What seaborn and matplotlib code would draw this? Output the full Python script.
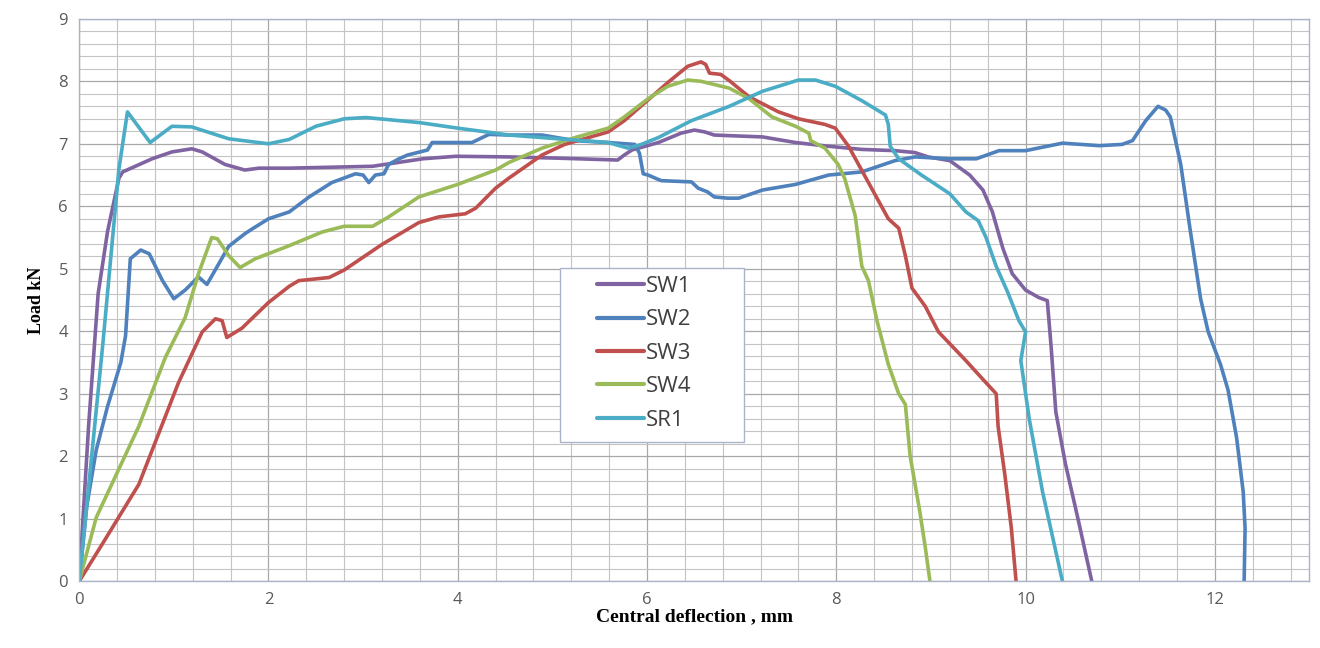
import numpy as np
import pandas as pd
import matplotlib
matplotlib.use("Agg")
import matplotlib.pyplot as plt
from matplotlib.ticker import MultipleLocator
from matplotlib.patches import Rectangle
import seaborn as sns

series_names = ["SW1", "SW2", "SW3", "SW4", "SR1"]
colors = ["#8064A2", "#4F81BD", "#C0504D", "#9BBB59", "#4BACC6"]

sw1_x = [0, 0.1, 0.2, 0.3, 0.42, 0.46, 0.77, 0.98, 1.19, 1.3, 1.54, 1.75, 1.9, 2.22, 3.1, 3.63, 3.98, 4.54,
         5.06, 5.69, 5.76, 5.84, 6.12, 6.36, 6.5, 6.61, 6.71, 6.87, 7.22, 7.57, 7.92, 8.27, 8.62, 8.83, 8.97,
         9.2, 9.41, 9.55, 9.65, 9.76, 9.86, 10.0, 10.14, 10.23, 10.27, 10.32, 10.42, 10.56, 10.7]
sw1_y = [0, 2.5, 4.6, 5.6, 6.45, 6.55, 6.76, 6.87, 6.92, 6.87, 6.67, 6.58, 6.61, 6.61, 6.64, 6.76, 6.8, 6.79,
         6.77, 6.74, 6.82, 6.9, 7.02, 7.17, 7.22, 7.19, 7.14, 7.13, 7.11, 7.02, 6.96, 6.91, 6.89, 6.86, 6.79,
         6.73, 6.5, 6.26, 5.91, 5.33, 4.92, 4.66, 4.54, 4.49, 3.76, 2.71, 1.89, 0.96, 0]

sw2_x = [0, 0.08, 0.18, 0.3, 0.44, 0.49, 0.54, 0.65, 0.74, 0.88, 1.0, 1.12, 1.26, 1.35, 1.46, 1.58, 1.75,
         1.81, 2.0, 2.22, 2.43, 2.67, 2.92, 3.0, 3.06, 3.13, 3.22, 3.27, 3.38, 3.47, 3.68, 3.73, 4.15, 4.26,
         4.33, 4.54, 4.89, 5.24, 5.59, 5.87, 5.92, 5.96, 6.01, 6.15, 6.47, 6.54, 6.64, 6.71, 6.85, 6.97,
         7.22, 7.57, 7.92, 8.27, 8.62, 8.83, 9.2, 9.48, 9.72, 10.0, 10.39, 10.78, 11.02, 11.13, 11.27,
         11.4, 11.48, 11.53, 11.64, 11.74, 11.85, 11.93, 12.06, 12.14, 12.23, 12.3, 12.32, 12.31]
sw2_y = [0, 1.2, 2.1, 2.8, 3.5, 3.93, 5.16, 5.3, 5.24, 4.81, 4.52, 4.66, 4.87, 4.75, 5.04, 5.36, 5.56,
         5.62, 5.8, 5.91, 6.15, 6.38, 6.52, 6.5, 6.38, 6.5, 6.52, 6.67, 6.76, 6.82, 6.9, 7.02, 7.02, 7.1,
         7.15, 7.14, 7.14, 7.05, 7.02, 6.99, 6.85, 6.52, 6.5, 6.41, 6.39, 6.29, 6.23, 6.15, 6.13, 6.13,
         6.26, 6.35, 6.5, 6.55, 6.73, 6.79, 6.76, 6.76, 6.89, 6.89, 7.01, 6.97, 6.99, 7.05, 7.37,
         7.6, 7.54, 7.43, 6.67, 5.62, 4.52, 3.99, 3.47, 3.06, 2.3, 1.43, 0.85, 0]

sw3_x = [0, 0.25, 0.63, 1.05, 1.3, 1.44, 1.51, 1.56, 1.72, 2.0, 2.22, 2.32, 2.64, 2.8, 3.2, 3.59, 3.8, 4.08,
         4.19, 4.4, 4.54, 4.89, 5.13, 5.59, 5.76, 5.98, 6.22, 6.43, 6.57, 6.62, 6.66, 6.78, 6.87, 7.08,
         7.39, 7.6, 7.88, 7.99, 8.13, 8.34, 8.55, 8.66, 8.73, 8.8, 8.94, 9.08, 9.2, 9.37, 9.55, 9.69, 9.71,
         9.78, 9.85, 9.9]
sw3_y = [0, 0.61, 1.55, 3.18, 3.99, 4.2, 4.17, 3.9, 4.05, 4.46, 4.72, 4.81, 4.86, 4.98, 5.39, 5.74, 5.83, 5.88,
         5.97, 6.29, 6.45, 6.82, 6.99, 7.19, 7.37, 7.66, 7.98, 8.24, 8.31, 8.27, 8.13, 8.11, 8.01, 7.75,
         7.51, 7.4, 7.31, 7.25, 6.96, 6.38, 5.8, 5.65, 5.21, 4.69, 4.4, 3.99, 3.8, 3.53, 3.23, 3.0, 2.48,
         1.72, 0.85, 0]

sw4_x = [0, 0.18, 0.63, 0.91, 1.12, 1.26, 1.4, 1.46, 1.58, 1.7, 1.86, 2.22, 2.57, 2.8, 3.1, 3.27, 3.59, 4.0,
         4.4, 4.54, 4.89, 5.24, 5.59, 5.76, 6.01, 6.22, 6.43, 6.57, 6.87, 7.08, 7.32, 7.57, 7.71, 7.73,
         7.88, 8.02, 8.09, 8.2, 8.27, 8.34, 8.43, 8.55, 8.66, 8.73, 8.78, 8.88, 8.94, 8.99]
sw4_y = [0, 1.02, 2.48, 3.58, 4.22, 4.92, 5.5, 5.48, 5.21, 5.02, 5.16, 5.37, 5.59, 5.68, 5.68, 5.83, 6.15, 6.35,
         6.58, 6.7, 6.93, 7.1, 7.25, 7.43, 7.72, 7.92, 8.02, 8.0, 7.89, 7.72, 7.43, 7.28, 7.17, 7.05,
         6.93, 6.67, 6.44, 5.85, 5.04, 4.81, 4.17, 3.47, 3.0, 2.83, 2.01, 1.14, 0.55, 0]

sr1_x = [0, 0.25, 0.42, 0.51, 0.75, 0.98, 1.19, 1.58, 2.0, 2.22, 2.5, 2.8, 3.03, 3.59, 4.0, 4.4, 4.54, 5.06,
         5.59, 5.8, 5.94, 6.12, 6.47, 6.87, 7.22, 7.6, 7.78, 7.99, 8.27, 8.52, 8.55, 8.57, 8.66, 8.9, 9.2,
         9.37, 9.5, 9.58, 9.69, 9.81, 9.93, 10.0, 9.95, 10.04, 10.18, 10.39]
sr1_y = [0, 3.8, 6.6, 7.51, 7.02, 7.28, 7.27, 7.08, 7.0, 7.07, 7.28, 7.4, 7.42, 7.34, 7.25, 7.17, 7.14, 7.08,
         7.02, 6.93, 6.99, 7.1, 7.37, 7.6, 7.84, 8.02, 8.02, 7.92, 7.69, 7.46, 7.31, 6.96, 6.76, 6.5, 6.2,
         5.91, 5.77, 5.51, 5.04, 4.63, 4.17, 3.99, 3.53, 2.59, 1.43, 0]

x_ticks = [0, 2, 4, 6, 8, 10, 12]
y_ticks = [0, 1, 2, 3, 4, 5, 6, 7, 8, 9]

frames = []
for name, xs, ys in zip(series_names,
                        [sw1_x, sw2_x, sw3_x, sw4_x, sr1_x],
                        [sw1_y, sw2_y, sw3_y, sw4_y, sr1_y]):
    frames.append(pd.DataFrame({"x": xs, "y": ys, "series": name}))
df = pd.concat(frames, ignore_index=True)

sns.set_theme(style="white")
plt.rcParams["font.family"] = ["Open Sans", "DejaVu Sans"]

fig = plt.figure(figsize=(13.2, 6.48), dpi=100)
ax = fig.add_axes([0.06, 0.103, 0.932, 0.868])

sns.lineplot(data=df, x="x", y="y", hue="series", hue_order=series_names,
             palette=dict(zip(series_names, colors)), sort=False, estimator=None,
             linewidth=2.6, ax=ax)
for ln in ax.get_lines():
    ln.set_solid_joinstyle("round")
    ln.set_solid_capstyle("round")

ax.set_xlim(0, 13)
ax.set_ylim(0, 9)
ax.set_xticks(x_ticks)
ax.set_yticks(y_ticks)
ax.xaxis.set_minor_locator(MultipleLocator(0.4))
ax.yaxis.set_minor_locator(MultipleLocator(0.2))
ax.grid(which="major", color="#A8A8A8", linewidth=0.9)
ax.grid(which="minor", color="#C4C4C4", linewidth=0.8)
ax.set_axisbelow(True)
ax.tick_params(axis="both", which="both", length=0, labelsize=12, colors="#595959", pad=8)
for s in ax.spines.values():
    s.set_color("#A9B4C8")
    s.set_linewidth(1.0)

ax.set_xlabel("Central deflection , mm", fontfamily="Liberation Serif", fontweight="bold",
              fontsize=14, color="black", labelpad=0)
ax.set_ylabel("Load kN", fontfamily="Liberation Serif", fontweight="bold",
              fontsize=13, color="black", labelpad=10)

# legend box
ax.add_patch(Rectangle((0.391, 0.247), 0.149, 0.310, transform=ax.transAxes,
                       facecolor="white", edgecolor="#A9B4C8", linewidth=1.0, zorder=4))
leg = ax.legend(loc="upper left", bbox_to_anchor=(0.421, 0.543), frameon=False,
                fontsize=16, handlelength=2.1, handletextpad=0.1, labelspacing=0.56,
                borderpad=0, borderaxespad=0)
leg.set_zorder(5)
for t in leg.get_texts():
    t.set_color("#404040")
for h in leg.get_lines():
    h.set_linewidth(3.0)

fig.savefig("out.png", dpi=100)
